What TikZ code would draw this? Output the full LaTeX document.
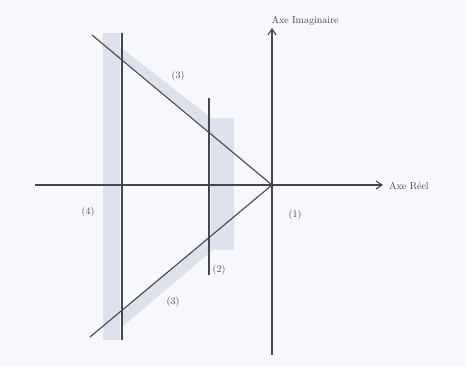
\documentclass[tikz,border=0pt]{standalone}
\usetikzlibrary{arrows.meta}
\definecolor{bgc}{RGB}{246,248,252}
\definecolor{bandc}{RGB}{222,224,236}
\definecolor{linec}{RGB}{70,70,80}
\begin{document}
\begin{tikzpicture}[x=1pt,y=-1pt,
  ln/.style={draw=linec,line width=1.1pt},
  axis/.style={draw=linec,line width=1.1pt,-{Straight Barb[length=6pt,width=8pt]}},
  band/.style={fill=bandc,draw=none},
  lbl/.style={font=\fontsize{10}{11}\selectfont,text=linec,inner sep=1pt}]
\fill[bgc] (0,0) rectangle (466,367);
\useasboundingbox (0,0) rectangle (466,367);
% shaded bands
\fill[band] (103,33) rectangle (120,340);
\fill[band] (112,40) -- (120,47) -- (232,134) -- (232,150) -- (120,56.6) -- cycle;
\fill[band] (211,118) rectangle (234,250);
\fill[band] (122,327) -- (234,232) -- (234,216) -- (122,310) -- cycle;
% coordinates
\coordinate (O) at (272,185);
\coordinate (rs) at (35,185);
\coordinate (re) at (383,185);
\coordinate (is) at (272,355);
\coordinate (ie) at (272,28);
\coordinate (u) at (92,35);
\coordinate (l) at (90,337);
\coordinate (v1a) at (122,33);
\coordinate (v1b) at (122,340);
\coordinate (v2a) at (209,98);
\coordinate (v2b) at (209,275);
% lines
\draw[axis] (rs) -- (re);
\draw[axis] (is) -- (ie);
\draw[ln] (u) -- (O);
\draw[ln] (l) -- (O);
\draw[ln] (v1a) -- (v1b);
\draw[ln] (v2a) -- (v2b);
\fill[linec] (O) circle (2pt);
% labels
\node[lbl] (ai) at (305,21) {Axe Imaginaire};
\node[lbl,anchor=west] (ar) at (388,186) {Axe Réel};
\node[lbl] (l1) at (295,215) {(1)};
\node[lbl] (l2) at (219,270) {(2)};
\node[lbl] (l3a) at (178,76) {(3)};
\node[lbl] (l3b) at (173,302) {(3)};
\node[lbl] (l4) at (88,212) {(4)};
\end{tikzpicture}
\end{document}
